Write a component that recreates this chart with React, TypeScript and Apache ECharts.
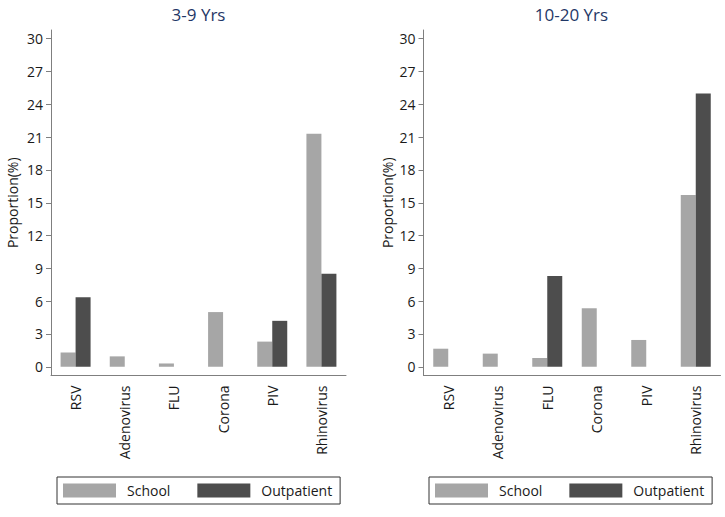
import React, { useEffect, useRef } from "react";
import * as echarts from "echarts";

const categories = ["RSV", "Adenovirus", "FLU", "Corona", "PIV", "Rhinovirus"];
const panelTitles = ["3-9 Yrs", "10-20 Yrs"];
const seriesNames = ["School", "Outpatient"];
const school3to9 = [1.3, 0.95, 0.3, 5.0, 2.3, 21.3];
const outpatient3to9 = [6.35, 0, 0, 0, 4.2, 8.5];
const school10to20 = [1.65, 1.2, 0.8, 5.35, 2.45, 15.7];
const outpatient10to20 = [0, 0, 8.3, 0, 0, 25.0];
const yTicks = [0, 3, 6, 9, 12, 15, 18, 21, 24, 27, 30];

const FONT = "'Open Sans', sans-serif";
const SCHOOL_COLOR = "#a6a6a6";
const OUT_COLOR = "#4d4d4d";
const AXIS_COLOR = "#7f7f7f";
const TEXT_COLOR = "#1a1a1a";

export default function App() {
  const ref = useRef<HTMLDivElement>(null);
  useEffect(() => {
    if (!ref.current) return;
    const chart = echarts.init(ref.current, undefined, { renderer: "svg" });
    const grids = [
      { left: 51, top: 30, width: 295, height: 345.5 },
      { left: 423.5, top: 30, width: 297, height: 345.5 },
    ];
    const nameGaps = [32, 29];
    const titleCenters = [198.5, 571.5];
    const legendLefts = [57, 429];
    const data = [
      [school3to9, outpatient3to9],
      [school10to20, outpatient10to20],
    ];
    const option: any = {
      animation: false,
      backgroundColor: "#fff",
      textStyle: { fontFamily: FONT },
      title: panelTitles.map((t, i) => ({
        text: t,
        left: titleCenters[i],
        textAlign: "center",
        top: 6,
        padding: 0,
        textStyle: { fontFamily: FONT, fontSize: 17, fontWeight: "normal", color: "#1f3766" },
      })),
      legend: legendLefts.map((l) => ({
        left: l,
        top: 477,
        orient: "horizontal",
        data: seriesNames,
        itemWidth: 53,
        itemHeight: 14,
        itemGap: 27,
        padding: [6.5, 8, 6.5, 6],
        borderColor: "#333",
        borderWidth: 1,
        icon: "rect",
        selectedMode: false,
        textStyle: { fontFamily: FONT, fontSize: 14, color: TEXT_COLOR, padding: [0, 0, 0, 6], lineHeight: 14 },
      })),
      grid: grids,
      xAxis: grids.map((_, i) => ({
        type: "category",
        gridIndex: i,
        data: categories,
        boundaryGap: true,
        axisLine: { onZero: false, lineStyle: { color: AXIS_COLOR, width: 1 } },
        axisTick: { alignWithLabel: true, length: 5, lineStyle: { color: AXIS_COLOR } },
        axisLabel: { rotate: 90, margin: 10, fontFamily: FONT, fontSize: 14, color: TEXT_COLOR, interval: 0 },
        splitLine: { show: false },
      })),
      yAxis: grids.map((_, i) => ({
        type: "value",
        gridIndex: i,
        min: -0.8,
        max: 30.8,
        name: "Proportion(%)",
        nameLocation: "middle",
        nameGap: nameGaps[i],
        nameTextStyle: { fontFamily: FONT, fontSize: 14, color: TEXT_COLOR },
        axisLine: { show: true, lineStyle: { color: AXIS_COLOR, width: 1 } },
        axisTick: { show: true, length: 5, customValues: yTicks, lineStyle: { color: AXIS_COLOR } },
        axisLabel: { margin: 8, customValues: yTicks, fontFamily: FONT, fontSize: 14, color: TEXT_COLOR },
        splitLine: { show: false },
      })),
      series: data.flatMap((pair, i) =>
        pair.map((vals, j) => ({
          type: "bar",
          name: seriesNames[j],
          xAxisIndex: i,
          yAxisIndex: i,
          data: vals,
          barWidth: 15,
          barGap: "0%",
          itemStyle: { color: j === 0 ? SCHOOL_COLOR : OUT_COLOR },
        }))
      ),
    };
    chart.setOption(option);
    return () => chart.dispose();
  }, []);
  return <div ref={ref} style={{ width: 725, height: 517, position: "absolute", left: 0, top: 0 }} />;
}
